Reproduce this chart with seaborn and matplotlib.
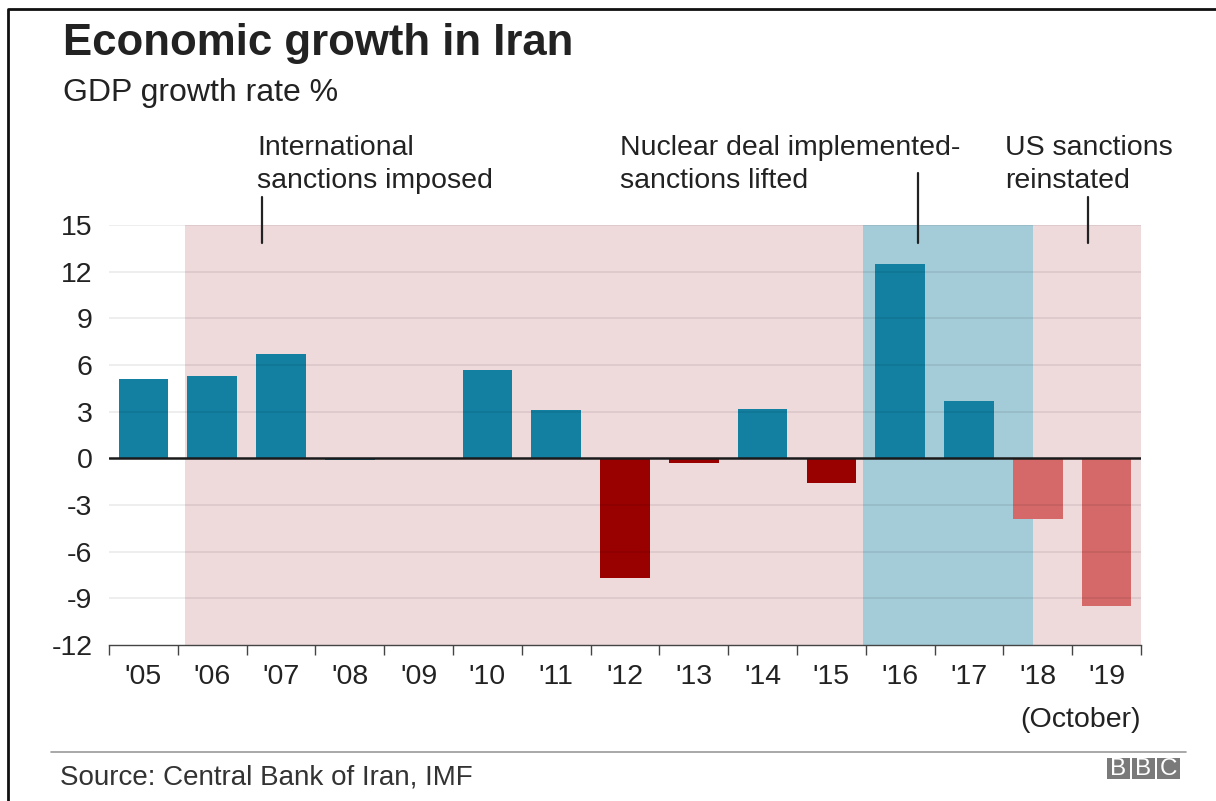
import matplotlib
matplotlib.use("Agg")
import matplotlib.pyplot as plt
import seaborn as sns
import pandas as pd
from matplotlib.lines import Line2D
from matplotlib.patches import Rectangle
import matplotlib.transforms as mtransforms

# ---- data ----
years = ["'05", "'06", "'07", "'08", "'09", "'10", "'11", "'12", "'13", "'14",
         "'15", "'16", "'17", "'18", "'19"]
growth = [5.1, 5.3, 6.7, -0.1, 0.0, 5.7, 3.1, -7.7, -0.3, 3.2, -1.6, 12.5, 3.7, -3.9, -9.5]
bar_group = ["up", "up", "up", "up", "up", "up", "up", "down", "down", "up",
             "down", "up", "up", "down_us", "down_us"]
y_ticks = [-12, -9, -6, -3, 0, 3, 6, 9, 12, 15]
group_colors = {"up": "#1380A1", "down": "#990000", "down_us": "#D56868"}

# shaded periods (category-axis coordinates)
sanction_span = (0.61, 14.5)
deal_span = (10.46, 12.93)

W, H = 1216, 801
FS = 20.5

sns.set_theme(style="white")
plt.rcParams["font.family"] = ["Liberation Sans", "DejaVu Sans"]

df = pd.DataFrame({"year": years, "growth": growth, "group": bar_group})
palette = {y: group_colors[g] for y, g in zip(years, bar_group)}

fig = plt.figure(figsize=(W / 100, H / 100), dpi=100)
fig.patch.set_facecolor("white")
ax = fig.add_axes([109 / W, 1 - 645 / H, 1032 / W, 420 / H])

sns.barplot(data=df, x="year", y="growth", hue="year", palette=palette,
            width=0.72, saturation=1, legend=False, ax=ax, zorder=3,
            linewidth=0)

ax.axvspan(*sanction_span, color="#EED9DB", lw=0, zorder=0)
ax.axvspan(*deal_span, color="#A3CBD8", lw=0, zorder=0.5)

ax.set_xlim(-0.5, len(years) - 0.5)
ax.set_ylim(min(y_ticks), max(y_ticks))
ax.set_yticks(y_ticks)
ax.set_yticklabels([str(v) for v in y_ticks])
for v in y_ticks:
    if v not in (0, min(y_ticks)):
        ax.axhline(v, color=(0, 0, 0, 0.08), lw=1.2, zorder=4)
ax.axhline(0, color="#1a1a1a", lw=1.8, zorder=5)

for s in ["top", "right", "left"]:
    ax.spines[s].set_visible(False)
ax.spines["bottom"].set_color("#444444")
ax.spines["bottom"].set_linewidth(1.0)
ax.set_xlabel("")
ax.set_ylabel("")

ax.set_xticks(range(len(years)))
ax.set_xticklabels(years)
ax.set_xticks([i - 0.5 for i in range(len(years) + 1)], minor=True)
ax.tick_params(axis="x", which="major", length=0, pad=14, labelsize=FS,
               labelcolor="#222222")
ax.tick_params(axis="x", which="minor", length=7.5, width=1.0, color="#444444",
               direction="out")
ax.tick_params(axis="y", length=0, pad=12, labelsize=FS, labelcolor="#222222")
ax.xaxis.set_ticks_position("bottom")

trans = mtransforms.blended_transform_factory(ax.transData, ax.transAxes)
ax.text(len(years) - 0.5, -0.195, "(October)", transform=trans, ha="right",
        va="baseline", fontsize=FS, color="#222222")

# annotation leader lines
for xd, ytop in [(1.724, 1.0667), (11.26, 1.124), (13.73, 1.0667)]:
    ax.add_line(Line2D([xd, xd], [ytop, 0.957], transform=trans, color="#222222",
                       lw=1.6, clip_on=False, zorder=6))


def ftext(x, y, s, **kw):
    fig.text(x / W, 1 - y / H, s, **kw)


ann_kw = dict(fontsize=FS, color="#222222", va="baseline", ha="left")
ftext(257, 155, "International", **ann_kw)
ftext(257, 188, "sanctions imposed", **ann_kw)
ftext(620, 155, "Nuclear deal implemented-", **ann_kw)
ftext(620, 188, "sanctions lifted", **ann_kw)
ftext(1005, 155, "US sanctions", **ann_kw)
ftext(1005, 188, "reinstated", **ann_kw)

# titles
ftext(63, 55, "Economic growth in Iran", fontsize=31.5, fontweight="bold",
      color="#222222", va="baseline")
ftext(63, 101, "GDP growth rate %", fontsize=23, color="#222222", va="baseline")

# footer
fig.add_artist(Line2D([51 / W, 1186 / W], [1 - 752 / H, 1 - 752 / H],
                      color="#9a9a9a", lw=1.2))
ftext(60, 785, "Source: Central Bank of Iran, IMF", fontsize=20, color="#333333",
      va="baseline")
for x0, ch in [(1107, "B"), (1132, "B"), (1157, "C")]:
    fig.add_artist(Rectangle((x0 / W, 1 - 779 / H), 23 / W, 21 / H,
                             transform=fig.transFigure, color="#7a7a7a", lw=0))
    fig.text((x0 + 11.5) / W, 1 - 769 / H, ch, ha="center", va="center",
             color="white", fontsize=17.5)

# frame (top & left border as in the screenshot)
fig.add_artist(Line2D([8 / W, 8 / W, 1.0], [0.0, 1 - 9 / H, 1 - 9 / H],
                      color="#111111", lw=2.0))

fig.savefig("out.png", dpi=100)
